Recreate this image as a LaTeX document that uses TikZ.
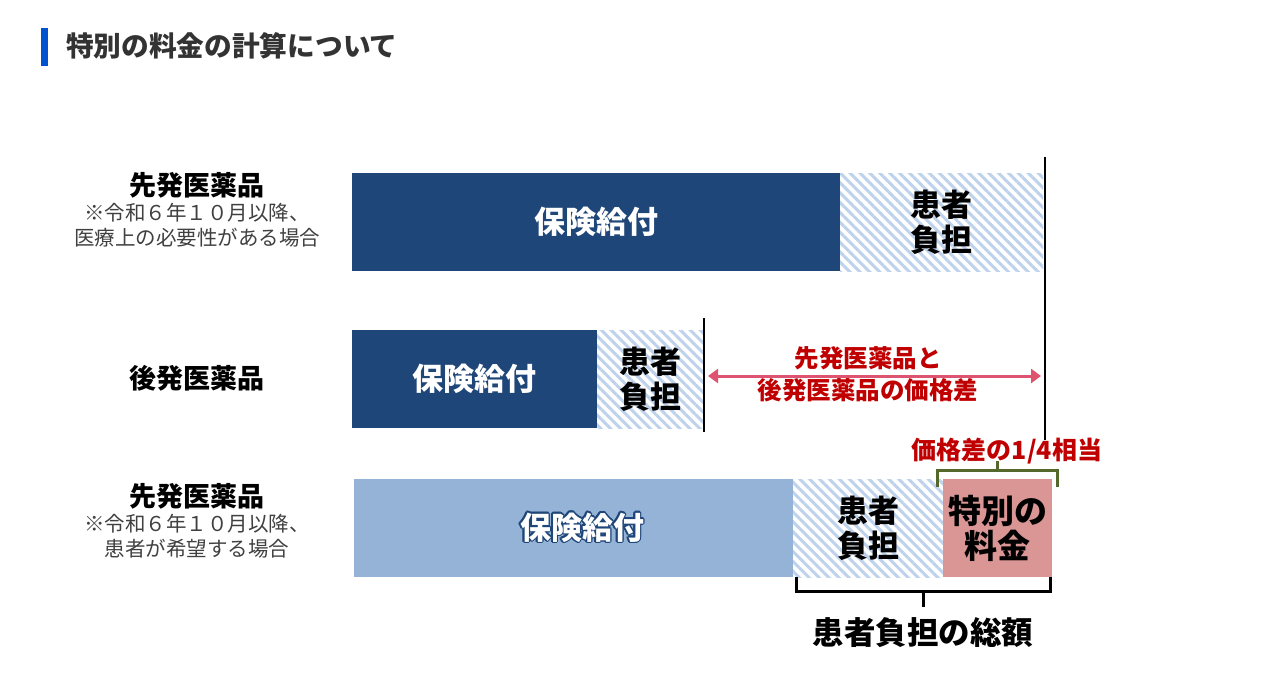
\documentclass[tikz,border=0pt]{standalone}
\usepackage{fontspec}
\setmainfont{Noto Sans CJK JP}
\usepackage{contour}
\usetikzlibrary{arrows.meta,patterns.meta,positioning}
\definecolor{titleblue}{RGB}{0,82,208}
\definecolor{titlegray}{RGB}{51,51,51}
\definecolor{notegray}{RGB}{64,64,64}
\definecolor{hokenblue}{RGB}{31,70,120}
\definecolor{hokenlight}{RGB}{149,179,215}
\definecolor{hatchblue}{RGB}{190,210,236}
\definecolor{feepink}{RGB}{218,150,148}
\definecolor{diffred}{RGB}{192,0,0}
\definecolor{arrowpink}{RGB}{222,84,112}
\definecolor{braceolive}{RGB}{84,104,44}
\contourlength{1.3pt}
\contournumber{12}

\begin{document}
\begin{tikzpicture}[x=1pt, y=-1pt,
    every node/.style={inner sep=0pt, outer sep=0pt},
    bar/.style={minimum height=98pt, text=white, font=\bfseries\fontsize{31pt}{35pt}\selectfont},
    futanbox/.style={minimum height=98pt, align=center, font=\bfseries\fontsize{31pt}{35pt}\selectfont},
    hatchbox/.style={futanbox, pattern={Lines[angle=-45,distance=7pt,line width=3pt]}, pattern color=hatchblue},
    kind/.style={font=\bfseries\fontsize{27pt}{30pt}\selectfont},
    note/.style={align=center, text=notegray, font=\fontsize{20.5pt}{25pt}\selectfont},
    redtext/.style={text=diffred, align=center, font=\bfseries\fontsize{24.5pt}{32pt}\selectfont},
    brace/.style={line width=3pt}]

\useasboundingbox (0,0) rectangle (1273,699);

% Title
\fill[titleblue] (41,28) rectangle (48,66);
\node[anchor=west, text=titlegray, font=\bfseries\fontsize{27.7pt}{30pt}\selectfont] (title) at (66,46) {特別の料金の計算について};

% Left labels
\node[kind] (sen1) at (197,185) {先発医薬品};
\node[note] (sen1note) at (197,225.5) {※令和６年１０月以降、\\医療上の必要性がある場合};
\node[kind] (kou) at (197,378) {後発医薬品};
\node[kind] (sen2) at (197,496) {先発医薬品};
\node[note] (sen2note) at (197,536.5) {※令和６年１０月以降、\\患者が希望する場合};

% (1) Brand-name drug, medical need
\node[bar, fill=hokenblue, minimum width=488pt] (kyuhu1) at (596,222) {保険給付};
\node[hatchbox, minimum width=203pt, right=0pt of kyuhu1] (futan1) {患者\\負担};

% (2) Generic drug
\node[bar, fill=hokenblue, minimum width=245pt] (kyuhu2) at (474.5,379) {保険給付};
\node[hatchbox, minimum width=106pt, right=0pt of kyuhu2] (futan2) {患者\\負担};

% (3) Brand-name drug, patient's wish
\node[bar, fill=hokenlight, minimum width=439pt] (kyuhu3) at (573.5,528) {};
\node[bar] (kyuhu3txt) at (582,528) {\contour{hokenblue}{保険給付}};
\node[hatchbox, minimum width=150pt, right=0pt of kyuhu3] (futan3) {患者\\負担};
\node[futanbox, fill=feepink, minimum width=109pt, right=0pt of futan3, font=\bfseries\fontsize{33pt}{35pt}\selectfont] (tokubetsu) {特別の\\料金};

% Reference lines
\coordinate (line1top) at (1045,157);
\coordinate (line1bot) at (1045,440);
\coordinate (line2top) at (704,318);
\coordinate (line2bot) at (704,432);
\draw[line width=2pt] (line1top) -- (line1bot);
\draw[line width=2pt] (line2top) -- (line2bot);

% Price difference arrow
\coordinate (diffL) at (708,376);
\coordinate (diffR) at (1041,376);
\draw[arrowpink, line width=3pt, {Triangle[width=14pt,length=10pt]}-{Triangle[width=14pt,length=10pt]}] (diffL) -- (diffR);
\node[redtext] (difftxt) at (868,374) {先発医薬品と\\後発医薬品の価格差};

% Quarter of the difference
\coordinate (gL) at (937,487);
\coordinate (gR) at (1057,487);
\draw[braceolive, brace] (gL) -- ++(0,-17) -| (gR);
\draw[braceolive, brace] (997,470) -- ++(0,-9);
\node[redtext, font=\bfseries\fontsize{25pt}{28pt}\selectfont] (quarter) at (1007,451) {価格差の1/4相当};

% Total paid by the patient
\coordinate (bL) at (796,577);
\coordinate (bR) at (1050,577);
\draw[brace] (bL) -- ++(0,14) -| (bR);
\draw[brace] (923,591) -- ++(0,16);
\node[font=\bfseries\fontsize{31.5pt}{35pt}\selectfont] (sougaku) at (923,633) {患者負担の総額};

\end{tikzpicture}
\end{document}
